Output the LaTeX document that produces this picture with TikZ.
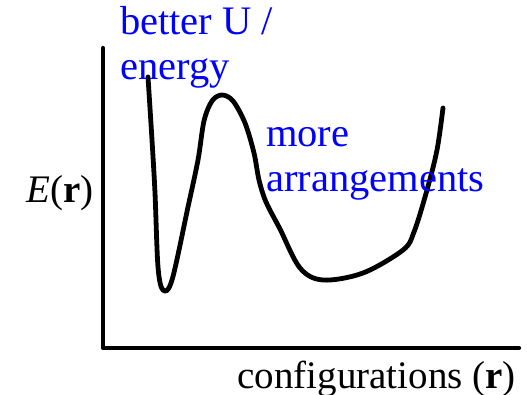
\documentclass[tikz,border=0pt]{standalone}
\usepackage{fontspec}
\setmainfont{Liberation Serif}
\usepackage{tikz}
\tikzset{
  axisline/.style={line width=4.2pt, line cap=round, line join=round},
  eline/.style={line width=4.8pt, line cap=round, line join=round},
  lbl/.style={inner sep=0pt, anchor=base west, align=left, font=\fontsize{39}{45}\selectfont},
  bluelbl/.style={lbl, text=blue, font=\fontsize{40.5}{45}\selectfont}
}

\begin{document}
\begin{tikzpicture}[x=1pt, y=-1pt]
    \useasboundingbox (0,0) rectangle (527,395);
    % axes
    \coordinate (ytop) at (103,48);
    \coordinate (origin) at (103,348);
    \coordinate (xend) at (519,348);
    \draw[axisline] (ytop) -- (origin) -- (xend);
    % energy landscape
    \draw[eline] plot[smooth, tension=0.55] coordinates {
      (148,77) (152,140) (155,193) (158,267) (163,290) (172,280) (188,207)
      (198,160) (204,121) (212,101) (222,95) (233,101) (245,123) (254,153)
      (259,180) (266,202) (280,229) (300,268) (323,280) (363,273) (403,250)
      (414,232) (427,190) (437,150) (443,108)};
    % labels (base = last line)
    \node[bluelbl] (ulabel) at (120,80) {better U /\\energy};
    \node[bluelbl] (slabel) at (266,192) {more\\arrangements};
    \node[lbl] (ylabel) at (26,203) {\textit{E}(\textbf{r})};
    \node[lbl, anchor=base east] (xlabel) at (516,388) {configurations (\textbf{r})};
  \end{tikzpicture}
\end{document}
